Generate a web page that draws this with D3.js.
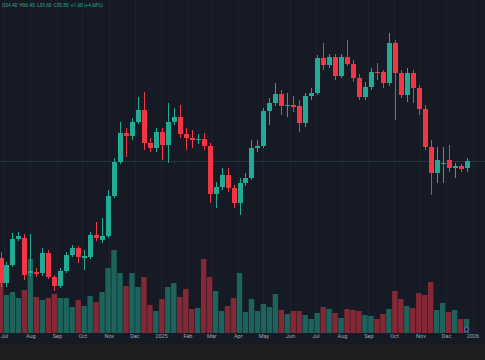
<!DOCTYPE html>
<html>
<head>
<meta charset="utf-8">
<script src="https://cdn.jsdelivr.net/npm/d3@7/dist/d3.min.js"></script>
<style>
html,body{margin:0;padding:0;background:#1e1e1e;}
svg{display:block;}
</style>
</head>
<body>
<svg id="chart" width="485" height="360"></svg>
<script>
// ---- Data (weekly candles) ----
const startDate = new Date(2024, 5, 27);
const open  = [16.4,11.4,15.0,20.2,20.4,13.4,13.6,13.4,17.4,12.6,10.8,13.8,17.0,18.4,16.4,16.6,21.0,20.0,20.8,28.8,35.6,41.4,40.8,43.6,46.0,39.4,38.4,41.6,39.0,43.6,44.6,41.2,40.4,40.0,40.2,38.8,29.2,30.6,33.0,30.4,27.4,31.4,32.4,38.4,38.8,45.8,47.4,49.2,46.8,47.0,46.8,43.4,48.8,49.4,56.4,55.0,56.6,52.8,56.6,55.2,52.4,48.6,50.6,53.6,53.6,51.4,59.4,53.4,49.0,53.4,50.4,46.2,38.6,33.4,35.2,36.0,34.4,34.8,34.4];
const high  = [17.6,15.6,21.4,21.6,21.2,21.2,14.4,18.4,18.0,13.0,14.4,17.6,19.0,18.8,18.0,21.6,23.6,24.4,30.0,36.4,43.6,42.4,44.4,48.6,49.6,40.4,42.4,42.4,47.4,46.4,47.0,42.4,42.0,41.2,41.4,39.4,31.6,34.4,34.4,31.0,32.4,33.4,40.0,40.0,46.4,48.4,51.4,50.0,49.4,48.8,48.0,49.4,50.4,57.0,59.4,57.2,57.2,57.2,60.0,56.0,53.2,51.6,54.4,55.4,54.0,61.4,60.0,54.0,54.4,54.0,51.0,47.0,40.0,38.6,38.6,39.0,35.4,35.2,36.4];
const low   = [10.6,10.6,14.6,19.8,12.0,12.8,12.6,12.8,12.2,9.8,10.4,13.4,16.6,15.4,14.0,16.2,19.8,19.4,20.4,28.4,35.2,36.6,40.0,43.2,38.0,37.6,37.6,36.0,35.4,43.0,40.4,38.0,38.4,39.2,38.0,27.4,26.4,30.0,29.6,26.4,25.0,30.8,32.0,37.6,38.4,43.0,46.8,45.0,44.6,45.6,41.6,42.6,48.0,49.0,54.0,54.4,52.0,52.4,54.8,51.6,48.0,48.0,50.0,52.0,50.4,50.8,44.0,48.4,47.6,47.4,45.0,38.0,29.0,31.4,31.4,33.6,32.4,33.6,33.6];
const close = [11.4,15.0,20.2,20.8,13.0,13.8,13.2,17.4,12.6,10.8,13.8,17.0,18.4,16.6,16.8,21.0,20.4,20.8,28.8,35.6,41.4,40.8,43.6,46.0,39.4,38.4,41.6,39.0,43.6,44.6,41.2,40.4,40.0,40.2,38.8,29.2,30.6,33.0,30.4,27.4,31.4,32.4,38.4,38.8,45.8,47.4,49.2,46.8,47.0,46.6,43.4,48.8,49.4,56.4,55.0,56.6,52.8,56.6,55.2,52.4,48.6,50.6,53.6,53.4,51.4,59.4,53.4,49.0,53.4,50.4,46.2,38.6,33.4,36.0,35.4,34.4,34.8,34.2,35.8];
const volume = [50,38,41,35,43,74,36,33,35,39,35,35,26,33,27,37,31,41,65,83,60,47,60,46,56,28,22,34,46,50,36,44,24,25,74,56,42,22,27,35,60,21,34,22,29,26,39,23,19,22,22,18,14,20,26,24,20,15,24,23,22,18,17,14,19,24,42,34,27,25,40,38,51,23,30,21,23,14,14];
const tickMonths = [[2024,6],[2024,7],[2024,8],[2024,9],[2024,10],[2024,11],[2025,0],[2025,1],[2025,2],[2025,3],[2025,4],[2025,5],[2025,6],[2025,7],[2025,8],[2025,9],[2025,10],[2025,11],[2026,0]];

const UP = "#22ab94", DOWN = "#f23645";
const W = 485, H = 360;
const dates = open.map((_, i) => d3.timeDay.offset(startDate, 7 * i));
const data = open.map((o, i) => ({date: dates[i], o, h: high[i], l: low[i], c: close[i], v: volume[i]}));

const svg = d3.select("#chart");
svg.append("rect").attr("width", W).attr("height", 344).attr("fill", "#161a25");
svg.append("rect").attr("y", 344).attr("width", W).attr("height", 16).attr("fill", "#1e1e1e");

const x = d3.scaleTime().domain([dates[0], dates[dates.length - 1]]).range([0.5, 466.55]);
const y = d3.scaleLinear().domain([0, 60]).range([340, 40]);
const yv = d3.scaleLinear().domain([0, 100]).range([333, 233]);

const ticks = tickMonths.map(([yy, mm]) => new Date(yy, mm, 1));

// vertical grid
svg.append("g").selectAll("line").data(ticks).join("line")
  .attr("x1", d => Math.round(x(d)) + 0.5).attr("x2", d => Math.round(x(d)) + 0.5)
  .attr("y1", 0).attr("y2", 333)
  .attr("stroke", "#1d212c").attr("stroke-width", 1);

// volume
svg.append("g").selectAll("rect").data(data).join("rect")
  .attr("x", d => x(d.date) - 2.7)
  .attr("width", 5.4)
  .attr("y", d => yv(d.v))
  .attr("height", d => yv(0) - yv(d.v))
  .attr("fill", d => d.c >= d.o ? UP : DOWN)
  .attr("fill-opacity", 0.5);

// last price line
const last = data[data.length - 1];
svg.append("line")
  .attr("x1", 0).attr("x2", W)
  .attr("y1", Math.round(y(last.c)) + 0.5).attr("y2", Math.round(y(last.c)) + 0.5)
  .attr("stroke", "#2a3140").attr("stroke-width", 1);

// candles
const cg = svg.append("g");
cg.selectAll("line").data(data).join("line")
  .attr("x1", d => Math.round(x(d.date)) + 0.5)
  .attr("x2", d => Math.round(x(d.date)) + 0.5)
  .attr("y1", d => y(d.h)).attr("y2", d => y(d.l))
  .attr("stroke", d => d.c >= d.o ? UP : DOWN).attr("stroke-width", 1);
cg.selectAll("rect").data(data).join("rect")
  .attr("x", d => Math.round(x(d.date)) - 2)
  .attr("width", 5)
  .attr("y", d => y(Math.max(d.o, d.c)))
  .attr("height", d => Math.max(1, Math.abs(y(d.o) - y(d.c))))
  .attr("fill", d => d.c >= d.o ? UP : DOWN);

// x axis
const fmt = d => d.getMonth() === 0 ? d3.timeFormat("%Y")(d) : d3.timeFormat("%b")(d);
const ax = svg.append("g").attr("transform", "translate(0,335)")
  .call(d3.axisBottom(x).tickValues(ticks).tickFormat(fmt).tickSize(0).tickPadding(0));
ax.select(".domain").remove();
ax.selectAll("text")
  .attr("fill", "#a3a6af")
  .attr("font-family", "Roboto, 'Noto Sans', sans-serif")
  .attr("font-size", "5.5px")
  .attr("dy", "0.55em");

// small marker
svg.append("circle").attr("cx", 466.5).attr("cy", 329.5).attr("r", 2)
  .attr("fill", "#1a1530").attr("stroke", "#8e5ad6").attr("stroke-width", 0.9);

// legend
const prev = data[data.length - 2];
const chg = last.c - prev.c, pct = chg / prev.c * 100;
const sgn = v => (v >= 0 ? "+" : "−") + Math.abs(v).toFixed(2);
const lg = svg.append("text").attr("x", 2).attr("y", 6.5)
  .attr("font-family", "Roboto, 'Noto Sans', sans-serif").attr("font-size", "4.8px");
const col = last.c >= last.o ? UP : DOWN;
[["O", last.o.toFixed(2)], ["H", last.h.toFixed(2)], ["L", last.l.toFixed(2)], ["C", last.c.toFixed(2)]].forEach(([k, v], i) => {
  lg.append("tspan").attr("fill", "#8a8d96").attr("dx", i ? 2 : 0).text(k);
  lg.append("tspan").attr("fill", col).text(v);
});
lg.append("tspan").attr("fill", col).attr("dx", 2).text(sgn(chg) + " (" + sgn(pct) + "%)");
</script>
</body>
</html>
